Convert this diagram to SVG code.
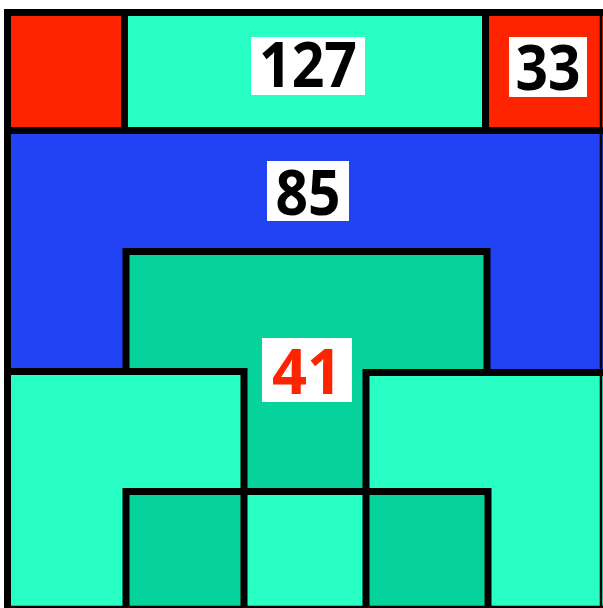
<svg xmlns="http://www.w3.org/2000/svg" width="603" height="608" viewBox="0 0 603 608">
<style>
.red{fill:#ff2400}
.lt{fill:#27ffc5}
.blue{fill:#2143f3}
.dk{fill:#06d39c}
.ln{fill:none;stroke:#000;stroke-width:7;stroke-linecap:square}
.box{fill:#fff}
.lbl{font-family:"Open Sans","DejaVu Sans",sans-serif;font-weight:bold;font-size:62px;text-anchor:middle}
</style>
<rect x="0" y="0" width="603" height="608" fill="#fff"/>
<g id="blue-region"><rect class="blue" x="11" y="134" width="592" height="242"/></g>
<g id="top-left-red"><rect class="red" x="11" y="16" width="112" height="114"/></g>
<g id="top-middle-teal"><rect class="lt" x="126" y="16" width="360" height="114"/></g>
<g id="top-right-red"><rect class="red" x="486" y="16" width="117" height="114"/></g>
<g id="central-dark"><rect class="dk" x="126" y="251" width="362" height="244"/></g>
<g id="left-light-L"><polygon class="lt" points="11,372 244,372 244,491 126,491 126,608 11,608"/></g>
<g id="right-light-L"><polygon class="lt" points="366,372 603,372 603,608 488,608 488,491 366,491"/></g>
<g id="bottom-dark-1"><rect class="dk" x="126" y="491" width="118" height="117"/></g>
<g id="bottom-light"><rect class="lt" x="244" y="491" width="122" height="117"/></g>
<g id="bottom-dark-2"><rect class="dk" x="366" y="491" width="122" height="117"/></g>
<g id="lines">
<path class="ln" d="M7.5,606 V12.5 H600"/>
<path d="M601,9 V608 M4,607 H603" stroke="#000" stroke-width="2.5" fill="none"/>
<path class="ln" d="M7.5,130.5 H600"/>
<path class="ln" d="M124.5,12.5 V130.5 M485.5,12.5 V130.5"/>
<path class="ln" d="M126,371 V251.5 H487 V372"/>
<path class="ln" d="M7.5,371.5 H244 V606"/>
<path class="ln" d="M366,606 V372.5 H600"/>
<path class="ln" d="M126,606 V491.5 H488 V606"/>
</g>
<g id="label-127"><rect class="box" x="251" y="37" width="114" height="58"/><text class="lbl" x="308" y="87" textLength="98" lengthAdjust="spacingAndGlyphs" fill="#000">127</text></g>
<g id="label-33"><rect class="box" x="509" y="37" width="78" height="60"/><text class="lbl" x="548" y="90" textLength="65" lengthAdjust="spacingAndGlyphs" fill="#000">33</text></g>
<g id="label-85"><rect class="box" x="267" y="161" width="82" height="60"/><text class="lbl" x="308" y="215" textLength="65" lengthAdjust="spacingAndGlyphs" fill="#000">85</text></g>
<g id="label-41"><rect class="box" x="262" y="338" width="90" height="64"/><text class="lbl" x="307" y="394" textLength="70" lengthAdjust="spacingAndGlyphs" fill="#ff2400">41</text></g>
</svg>
